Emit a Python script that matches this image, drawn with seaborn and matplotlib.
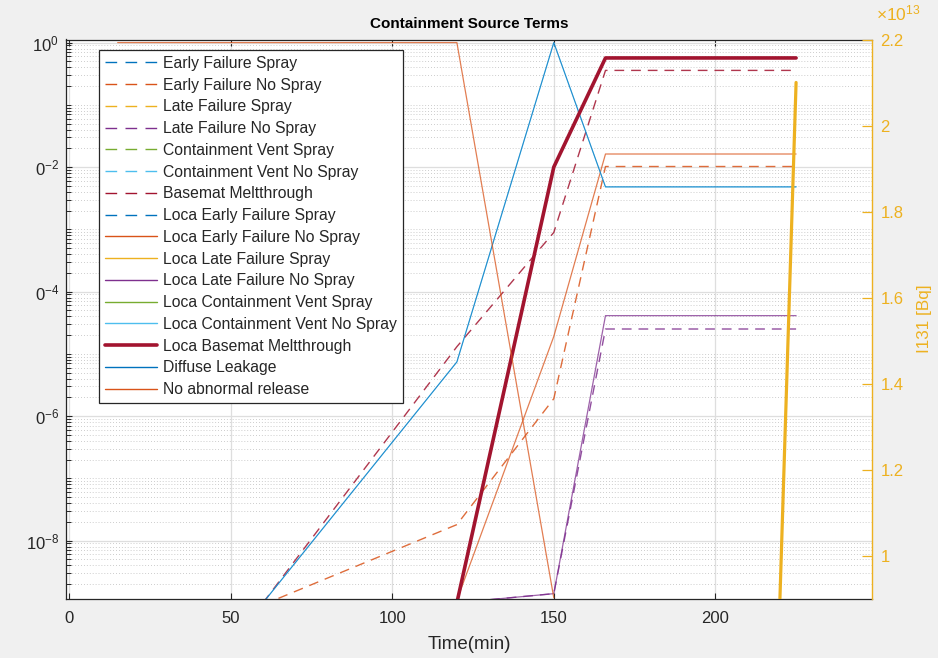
import matplotlib
matplotlib.use('Agg')
import matplotlib.pyplot as plt
import matplotlib.ticker as mticker
from matplotlib.lines import Line2D
import numpy as np
import pandas as pd
import seaborn as sns

# legend order and styles of the MATLAB figure
series_names = ['Early Failure Spray', 'Early Failure No Spray', 'Late Failure Spray',
                'Late Failure No Spray', 'Containment Vent Spray', 'Containment Vent No Spray',
                'Basemat Meltthrough', 'Loca Early Failure Spray', 'Loca Early Failure No Spray',
                'Loca Late Failure Spray', 'Loca Late Failure No Spray', 'Loca Containment Vent Spray',
                'Loca Containment Vent No Spray', 'Loca Basemat Meltthrough', 'Diffuse Leakage',
                'No abnormal release']
matlab_colors = ['#0072BD', '#D95319', '#EDB120', '#7E2F8E', '#77AC30', '#4DBEEE', '#A2142F']

# (series not listed stay below the visible range)
early_no_spray_t = [60, 120, 150, 166, 225]
early_no_spray_y = [9.3e-10, 1.8e-8, 1.9e-6, 1.02e-2, 1.02e-2]
late_no_spray_t = [120, 150, 166, 225]
late_no_spray_y = [1.0e-9, 1.4e-9, 2.5e-5, 2.5e-5]
basemat_t = [60, 120, 150, 166, 225]
basemat_y = [1.0e-9, 1.3e-5, 8.9e-4, 0.357, 0.357]
loca_early_no_spray_t = [120, 150, 166, 225]
loca_early_no_spray_y = [1.1e-9, 1.9e-5, 1.62e-2, 1.62e-2]
loca_late_no_spray_t = [120, 150, 166, 225]
loca_late_no_spray_y = [1.0e-9, 1.4e-9, 4.1e-5, 4.1e-5]
loca_cv_no_spray_t = [60, 120, 150, 166, 225]
loca_cv_no_spray_y = [1.0e-9, 7.4e-6, 1.0, 4.8e-3, 4.8e-3]
loca_basemat_t = [120, 150, 166, 225]
loca_basemat_y = [1.0e-9, 1.0e-2, 0.566, 0.566]
diffuse_t = [60, 120, 150, 166, 225]
diffuse_y = [1.0e-9, 7.4e-6, 1.0, 4.8e-3, 4.8e-3]
no_abnormal_t = [15, 120, 150]
no_abnormal_y = [1.0, 1.0, 1.2e-9]

i131_t = [220, 225]
i131_y = [0.9e13, 2.1e13]

data = {
    'Early Failure No Spray': (early_no_spray_t, early_no_spray_y),
    'Late Failure No Spray': (late_no_spray_t, late_no_spray_y),
    'Basemat Meltthrough': (basemat_t, basemat_y),
    'Loca Early Failure No Spray': (loca_early_no_spray_t, loca_early_no_spray_y),
    'Loca Late Failure No Spray': (loca_late_no_spray_t, loca_late_no_spray_y),
    'Loca Containment Vent No Spray': (loca_cv_no_spray_t, loca_cv_no_spray_y),
    'Diffuse Leakage': (diffuse_t, diffuse_y),
    'Loca Basemat Meltthrough': (loca_basemat_t, loca_basemat_y),
    'No abnormal release': (no_abnormal_t, no_abnormal_y),
}

sns.set_theme(style='white')
plt.rcParams['font.family'] = ['Liberation Sans', 'DejaVu Sans']
plt.rcParams['mathtext.fontset'] = 'custom'
plt.rcParams['mathtext.rm'] = 'Liberation Sans'
plt.rcParams['mathtext.it'] = 'Liberation Sans'
plt.rcParams['mathtext.default'] = 'regular'

dark = '#262626'
yellow = '#EDB120'
dash = (0, (7, 5))

styles = {}
for i, name in enumerate(series_names):
    color = matlab_colors[i % 7]
    ls = dash if i < 8 else '-'
    lw = 1.0 if i < 8 else 0.9
    if name == 'Loca Basemat Meltthrough':
        lw = 2.6
    styles[name] = (color, ls, lw)

fig = plt.figure(figsize=(9.38, 6.58), dpi=100, facecolor='#f0f0f0')
ax = fig.add_axes([66 / 938, 1 - 598.5 / 658, 806 / 938, 559 / 658])
ax.set_facecolor('white')

for name, (t, y) in data.items():
    color, ls, lw = styles[name]
    alpha = 1.0 if lw > 2 else (0.85 if ls == dash else 0.75)
    if name == 'Diffuse Leakage':
        lw = 0.7
    df = pd.DataFrame({'t': t, 'y': y})
    sns.lineplot(data=df, x='t', y='y', ax=ax, color=color, linestyle=ls, lw=lw, alpha=alpha,
                 sort=False, estimator=None, legend=False)

ax.set_yscale('log')
ax.set_xlim(-1, 248.5)
ax.set_ylim(1.17e-9, 1.12)
ax.yaxis.set_major_locator(mticker.FixedLocator([1e-8, 1e-6, 1e-4, 1e-2, 1]))
ax.yaxis.set_minor_locator(mticker.LogLocator(base=10, subs=np.arange(1, 10), numticks=100))
ax.yaxis.set_minor_formatter(mticker.NullFormatter())
ax.set_yticklabels([r'$10^{-8}$', r'$0^{-6}$', r'$0^{-4}$', r'$0^{-2}$', r'$10^{0}$'])
ax.set_xticks([0, 50, 100, 150, 200])

ax.grid(True, which='major', color='#dedede', lw=0.9)
ax.grid(True, which='minor', axis='y', color='#bcbcbc', ls=(0, (1, 2.5)), lw=0.6)
ax.set_axisbelow(True)

ax.tick_params(which='both', direction='in', left=True, right=False, top=True, bottom=True,
               colors=dark, labelsize=12)
ax.tick_params(which='major', length=4.5, width=0.8)
ax.tick_params(which='minor', length=3.5, width=0.7)
ax.tick_params(axis='x', which='major', pad=9)
ax.tick_params(axis='y', which='major', pad=5)
ax.tick_params(axis='x', which='minor', top=False, bottom=False)
for side in ['left', 'bottom', 'top']:
    ax.spines[side].set_color(dark)
    ax.spines[side].set_linewidth(0.9)
ax.spines['right'].set_visible(False)

ax.set_xlabel('Time(min)', fontsize=13.5, color=dark, labelpad=7)
ax.set_ylabel('')
ax.set_title('Containment Source Terms', fontsize=11, fontweight='bold', color='black', pad=8)

# right axis for I131
ax2 = ax.twinx()
df_i = pd.DataFrame({'t': i131_t, 'y': i131_y})
sns.lineplot(data=df_i, x='t', y='y', ax=ax2, color=yellow, lw=2.3, sort=False,
             estimator=None, legend=False)
ax2.set_xlim(-1, 248.5)
ax2.set_ylim(0.9e13, 2.2e13)
ax2.set_yticks([1.0e13, 1.2e13, 1.4e13, 1.6e13, 1.8e13, 2.0e13, 2.2e13])
ax2.yaxis.set_major_formatter(mticker.FuncFormatter(lambda v, p: f'{v / 1e13:g}'))
ax2.tick_params(axis='y', direction='in', length=7, width=0.9, colors=yellow, labelsize=12,
                right=True, left=False, pad=6)
ax2.set_ylabel('I131 [Bq]', fontsize=12.3, color=yellow, labelpad=10)
ax2.text(1.005, 1.028, r'$\times10^{13}$', transform=ax2.transAxes, color=yellow,
         fontsize=12.5, ha='left', va='bottom')
for side in ['left', 'bottom', 'top']:
    ax2.spines[side].set_visible(False)
ax2.spines['right'].set_color(yellow)
ax2.spines['right'].set_linewidth(1.0)
ax2.set_xlabel('')

handles = []
for name in series_names:
    color, ls, lw = styles[name]
    if ls == dash:
        ls = (0, (8.4, 6.0))
    handles.append(Line2D([], [], color=color, linestyle=ls, lw=max(lw, 1.0)))
leg = ax.legend(handles, series_names, loc='upper left', bbox_to_anchor=(0.041, 0.982),
                borderaxespad=0, fontsize=11.3, frameon=True, fancybox=False,
                handlelength=3.3, handletextpad=0.35, labelspacing=0.43, borderpad=0.4)
leg.get_frame().set_edgecolor(dark)
leg.get_frame().set_linewidth(0.9)
leg.get_frame().set_alpha(1)
for txt in leg.get_texts():
    txt.set_color(dark)

fig.savefig('out.png', dpi=100, facecolor=fig.get_facecolor())
